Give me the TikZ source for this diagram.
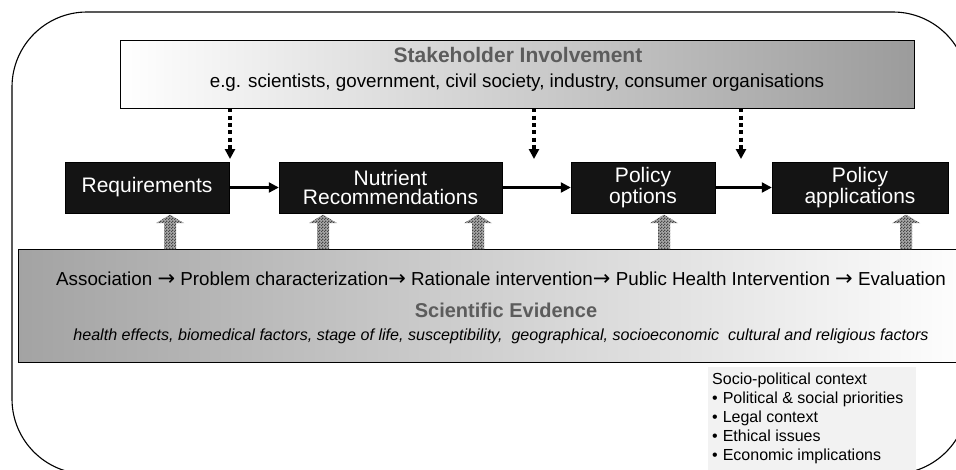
\documentclass[tikz,border=0pt]{standalone}
\usepackage{fontspec}
\setmainfont{Liberation Sans}
\newfontfamily\arrfont{DejaVu Sans}
\usetikzlibrary{arrows.meta,calc,patterns}
\definecolor{ttl}{HTML}{5C5C5C}
\definecolor{hatchfill}{HTML}{A8A8A8}
\pgfdeclarepatternformonly{finecheck}{\pgfpointorigin}{\pgfqpoint{3pt}{3pt}}{\pgfqpoint{3pt}{3pt}}{%
  \pgfpathrectangle{\pgfpointorigin}{\pgfqpoint{1.5pt}{1.5pt}}%
  \pgfpathrectangle{\pgfqpoint{1.5pt}{1.5pt}}{\pgfqpoint{1.5pt}{1.5pt}}%
  \pgfusepath{fill}}
\newcommand{\rarr}{{\arrfont\fontsize{21}{17}\selectfont →}}
\tikzset{
  blackbox/.style={fill=black!92, draw=black, text=white, align=center, inner sep=0pt,
    font=\fontsize{21}{19.5}\selectfont},
  dotarrow/.style={line width=3.8pt, dash pattern=on 4pt off 3.3pt,
    -{Triangle[width=10pt,length=10pt]}},
  solidarrow/.style={line width=2.2pt, -{Triangle[width=10pt,length=10pt]}},
  hatch/.style={preaction={fill=hatchfill}, pattern=finecheck, pattern color=black!72},
}
\begin{document}
\begin{tikzpicture}[x=1pt,y=-1pt]
\useasboundingbox (0,0) rectangle (956,469);
\clip (0,0) rectangle (956,469);
\fill[white] (0,0) rectangle (956,469);
% outer context frame
\draw[line width=1.1pt, rounded corners=75pt] (12,12) rectangle (968,474);

% stakeholder box
\node[draw=black, line width=0.8pt, shading=axis, left color=white, right color=gray!78,
  minimum width=794pt, minimum height=68pt, inner sep=0pt] (stake) at (517,74) {};
\node[anchor=base, text=ttl, font=\fontsize{21}{21}\selectfont\bfseries] (stitle) at (518,62) {Stakeholder Involvement};
\node[anchor=base, font=\fontsize{18.8}{18.8}\selectfont] (ssub) at (517,87) {e.g. scientists, government, civil society, industry, consumer organisations};

% process boxes
\node[blackbox, minimum width=164pt, minimum height=51pt] (req) at (147,187.5) {Requirements};
\node[blackbox, minimum width=223pt, minimum height=51pt] (nut) at (390.5,187.5) {Nutrient\\Recommendations};
\node[blackbox, minimum width=144pt, minimum height=51pt] (opt) at (643,187.5) {Policy\\options};
\node[blackbox, minimum width=176pt, minimum height=51pt] (app) at (860,187.5) {Policy\\applications};

\draw[solidarrow] (req) -- (nut);
\draw[solidarrow] (nut) -- (opt);
\draw[solidarrow] (opt) -- (app);

% dotted influence arrows
\coordinate (d1) at (230,159);
\coordinate (d2) at (534,159);
\coordinate (d3) at (741,159);
\draw[dotarrow] (stake.south -| d1) -- (d1);
\draw[dotarrow] (stake.south -| d2) -- (d2);
\draw[dotarrow] (stake.south -| d3) -- (d3);

% scientific evidence box
\node[draw=black, line width=0.8pt, shading=axis, left color=gray!72, right color=white,
  minimum width=960pt, minimum height=113pt, inner sep=0pt, anchor=north west] (evi) at (18,249) {};
\node[anchor=base, font=\fontsize{18.8}{18.8}\selectfont] (chain) at (501,285)
  {Association \rarr\ Problem characterization\rarr\ Rationale intervention\rarr\ Public Health Intervention \rarr\ Evaluation};
\node[anchor=base, text=ttl, font=\fontsize{20}{20}\selectfont\bfseries] (etitle) at (506,317) {Scientific Evidence};
\node[anchor=base, font=\fontsize{16.1}{16.1}\selectfont\itshape] (efact) at (501,340)
  {health effects, biomedical factors, stage of life, susceptibility,\ \ geographical, socioeconomic\ \ cultural and religious factors};

% hatched support arrows
\foreach \hx/\hb in {170/req,323/nut,478/nut,664/opt,906/app}{
  \path[hatch] let \p1=(\hb.south), \p2=(evi.north) in
    ({(\hx-6)*1pt},\y2) -- ({(\hx-6)*1pt},{\y1-10pt}) -- ({(\hx-14)*1pt},{\y1-10pt})
    -- ({\hx*1pt},{\y1-1.5pt}) -- ({(\hx+14)*1pt},{\y1-10pt}) -- ({(\hx+6)*1pt},{\y1-10pt})
    -- ({(\hx+6)*1pt},\y2) -- cycle;
}

% socio-political context
\fill[black!5] (708,367) rectangle (916,470);
\node[anchor=north west, align=left, inner sep=0pt, font=\fontsize{16}{19}\selectfont] (socio) at (712,373)
  {Socio-political context\\
   \textbullet\hspace{5pt}Political \& social priorities\\
   \textbullet\hspace{5pt}Legal context\\
   \textbullet\hspace{5pt}Ethical issues\\
   \textbullet\hspace{5pt}Economic implications};
\end{tikzpicture}
\end{document}
